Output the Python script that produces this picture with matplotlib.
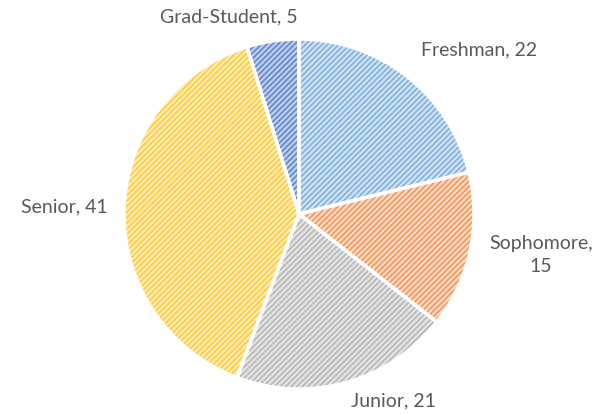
import matplotlib.pyplot as plt
from matplotlib.patches import Wedge

plt.rcParams['font.family'] = ['Lato', 'DejaVu Sans']
plt.rcParams['hatch.linewidth'] = 1.1

# Data
categories = ['Freshman', 'Sophomore', 'Junior', 'Senior', 'Grad-Student']
values = [22, 15, 21, 41, 5]
fill_colors = ['#cfe1f3', '#fad8c1', '#e3e3e3', '#ffeab0', '#bccdeb']
hatch_colors = ['#7aaee0', '#f29457', '#b5b5b5', '#ffca3a', '#5a84cc']
label_text = ['Freshman, 22', 'Sophomore,\n15', 'Junior, 21', 'Senior, 41', 'Grad-Student, 5']
label_pos = [(479, 365), (541, 160), (393, 14), (64, 208), (229, 398)]

fig = plt.figure(figsize=(6.01, 4.15), dpi=100)
ax = fig.add_axes([0, 0, 1, 1])

center = (299, 201)
radius = 175

# hatched fill layer
wedges, _ = ax.pie(values, startangle=90, counterclock=False, center=center,
                   radius=radius, frame=True,
                   wedgeprops=dict(linewidth=0))
for w, fc, hc in zip(wedges, fill_colors, hatch_colors):
    w.set_facecolor(fc)
    w.set_edgecolor(hc)
    w.set_hatch('//////')
    w.set_linewidth(0)

# white separators on top
total = sum(values)
theta = 90.0
for v in values:
    span = v / total * 360
    ax.add_patch(Wedge(center, radius, theta - span, theta, facecolor='none',
                       edgecolor='white', linewidth=2.5))
    theta -= span

ax.set_xlim(0, 601)
ax.set_ylim(0, 415)
ax.set_aspect('equal')
ax.axis('off')

for txt, (x, y) in zip(label_text, label_pos):
    ax.text(x, y, txt, ha='center', va='center', fontsize=14,
            color='#595959', linespacing=1.45)

fig.savefig('out.png', dpi=100)
